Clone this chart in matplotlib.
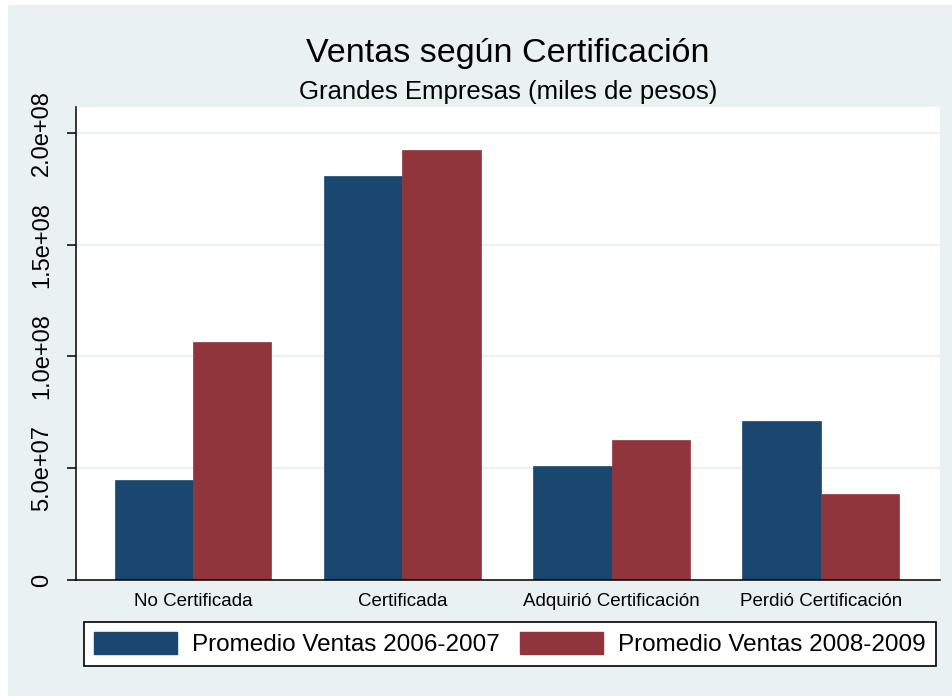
import matplotlib
matplotlib.use('Agg')
import matplotlib.pyplot as plt
import numpy as np
from matplotlib.patches import Rectangle, Patch

# ---- data ----
categories = ["No Certificada", "Certificada", "Adquirió Certificación", "Perdió Certificación"]
ventas_2006_2007 = [4.47e7, 1.808e8, 5.10e7, 7.11e7]
ventas_2008_2009 = [1.065e8, 1.924e8, 6.26e7, 3.85e7]
series_labels = ["Promedio Ventas 2006-2007", "Promedio Ventas 2008-2009"]
yticks = [0, 5e7, 1e8, 1.5e8, 2e8]
ytick_labels = ["0", "5.0e+07", "1.0e+08", "1.5e+08", "2.0e+08"]
title = "Ventas según Certificación"
subtitle = "Grandes Empresas (miles de pesos)"

# ---- style ----
plt.rcParams['font.family'] = ['Liberation Sans', 'DejaVu Sans']
BG = '#EAF1F3'
BLUE = '#1A476F'
RED = '#90353B'

W, H = 952, 696
fig = plt.figure(figsize=(W / 100, H / 100), dpi=100)
fig.patch.set_facecolor('white')
fig.add_artist(Rectangle((8 / W, 0), 1 - 8 / W, (H - 5) / H, transform=fig.transFigure,
                         facecolor=BG, edgecolor='none', zorder=-10))

ax = fig.add_axes([76 / W, (H - 580) / H, 864 / W, 473 / H])
ax.set_facecolor('white')

x = np.arange(len(categories))
w = 0.375
ax.bar(x - w / 2, ventas_2006_2007, w, color=BLUE, edgecolor=BLUE, linewidth=0.5,
       label=series_labels[0], zorder=3)
ax.bar(x + w / 2, ventas_2008_2009, w, color=RED, edgecolor=RED, linewidth=0.5,
       label=series_labels[1], zorder=3)

ax.set_xlim(-0.559, 3.569)
ax.set_ylim(0, 2.1163e8)

ax.set_yticks(yticks, ytick_labels, rotation=90, va='center', fontsize=17)
ax.set_xticks(x, categories, fontsize=13.5)
ax.tick_params(axis='x', length=0, pad=9)
ax.tick_params(axis='y', length=6.5, width=1.1, direction='out', pad=10, colors='black')

ax.yaxis.grid(True, color=BG, linewidth=1.6, zorder=0)
ax.set_axisbelow(True)

for s in ['top', 'right']:
    ax.spines[s].set_visible(False)
for s in ['left', 'bottom']:
    ax.spines[s].set_color('black')
    ax.spines[s].set_linewidth(1.1)
    ax.spines[s].set_zorder(5)

cx = 508 / W
fig.text(cx, 1 - 62 / H, title, ha='center', va='baseline', fontsize=24.5)
fig.text(cx, 1 - 99 / H, subtitle, ha='center', va='baseline', fontsize=18.5)

handles = [Patch(facecolor=BLUE, edgecolor=BLUE), Patch(facecolor=RED, edgecolor=RED)]
leg = fig.legend(handles, series_labels, loc='upper left',
                 bbox_to_anchor=(84 / W, 1 - 622 / H), bbox_transform=fig.transFigure,
                 ncol=2, fontsize=17.5, frameon=True, fancybox=False, shadow=False,
                 framealpha=1, edgecolor='black', handlelength=3.42, handleheight=1.0,
                 handletextpad=0.62, columnspacing=0.82, borderpad=0.41, borderaxespad=0)
leg.get_frame().set_linewidth(1.2)
leg.get_frame().set_facecolor('white')

fig.savefig('out.png', dpi=100, facecolor=fig.get_facecolor())
